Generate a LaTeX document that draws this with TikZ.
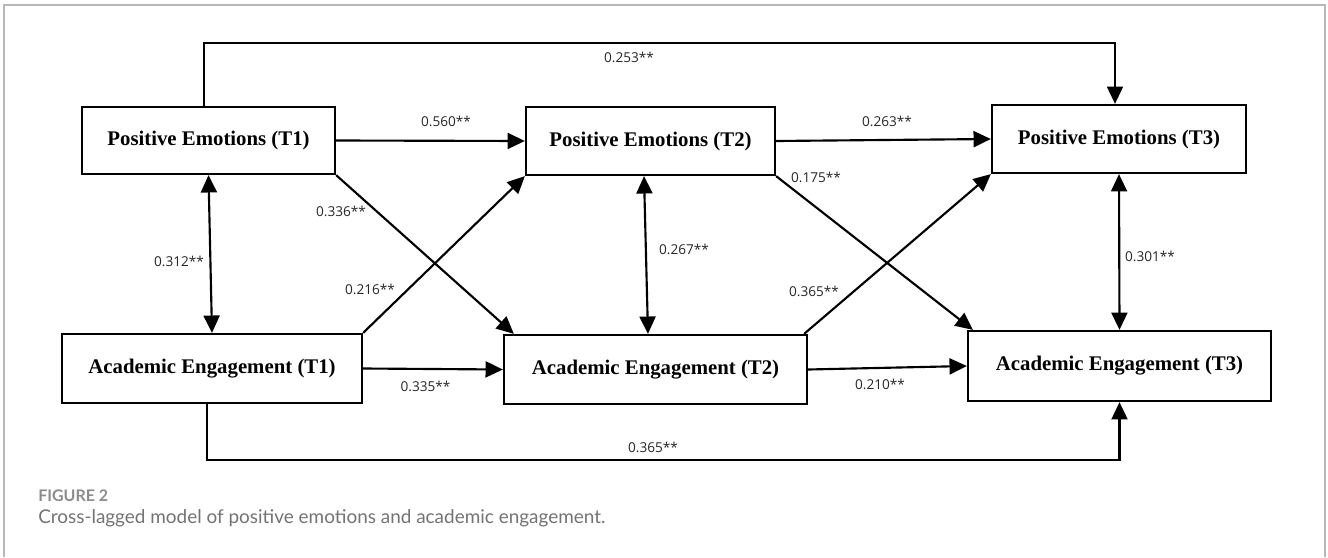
\documentclass[tikz,border=0pt]{standalone}
\usepackage{fontspec}
\setmainfont{Liberation Serif}
\newfontfamily\labfont{Open Sans}
\newfontfamily\capfont{Lato}
\usetikzlibrary{arrows.meta,calc}
\begin{document}
\begin{tikzpicture}[x=0.75pt,y=-0.75pt,
  vbox/.style={draw=black,line width=1.7pt,fill=white,inner sep=0pt,font=\fontsize{15.6}{18}\selectfont\bfseries},
  arr/.style={line width=1.6pt,-{Triangle[length=13pt,width=12pt]}},
  darr/.style={line width=1.6pt,{Triangle[length=13pt,width=12pt]}-{Triangle[length=13pt,width=12pt]}},
  lab/.style={font=\labfont\fontsize{10.2}{12}\selectfont,text=black!85,inner sep=0pt},
  frame/.style={draw=black!28,line width=1.3pt}]
\useasboundingbox (0,0) rectangle (1328,557);
\draw[frame] (4,557) -- (4,5) -- (1325,5) -- (1325,557);

% boxes
\node[vbox,minimum width={253*0.75pt},minimum height={67*0.75pt}] (PE1) at (208.5,140.5) {Positive Emotions (T1)};
\node[vbox,minimum width={249*0.75pt},minimum height={68*0.75pt}] (PE2) at (650.5,141) {Positive Emotions (T2)};
\node[vbox,minimum width={254*0.75pt},minimum height={68*0.75pt}] (PE3) at (1119,139) {Positive Emotions (T3)};
\node[vbox,minimum width={300*0.75pt},minimum height={69*0.75pt}] (AE1) at (212,368.5) {Academic Engagement (T1)};
\node[vbox,minimum width={303*0.75pt},minimum height={69*0.75pt}] (AE2) at (655.5,369.5) {Academic Engagement (T2)};
\node[vbox,minimum width={303*0.75pt},minimum height={70*0.75pt}] (AE3) at (1119.5,366) {Academic Engagement (T3)};

\coordinate (top) at (650,43);
\coordinate (bot) at (650,460);

% autoregressive paths
\draw[arr] (PE1.east) -- (PE2.west);
\draw[arr] (PE2.east) -- (PE3.west);
\draw[arr] (AE1.east) -- (AE2.west);
\draw[arr] (AE2.east) -- (AE3.west);
\draw[arr] ($(PE1.north)+(-4.5,0)$) |- (top) -| ($(PE3.north)+(-4,0)$);
\draw[arr] ($(AE1.south)+(-5,0)$) |- (bot) -| (AE3.south);

% correlations
\draw[darr] (PE1.south) -- (AE1.north);
\draw[darr] ($(PE2.south)+(-6.5,0)$) -- ($(AE2.north)+(-7.5,0)$);
\draw[darr] (PE3.south) -- (AE3.north);

% cross-lagged
\draw[arr] (PE1.south east) -- ($(AE2.north west)+(11,0)$);
\draw[arr] (AE1.north east) -- (PE2.south west);
\draw[arr] (PE2.south east) -- ($(AE3.north west)+(6,0)$);
\draw[arr] ($(AE2.north east)+(-4,0)$) -- (PE3.south west);

% labels
\node[lab] (l1) at (629,57) {0.253**};
\node[lab] (l2) at (446,121) {0.560**};
\node[lab] (l3) at (887,121) {0.263**};
\node[lab] (l4) at (341,211) {0.336**};
\node[lab] (l5) at (816,177) {0.175**};
\node[lab] (l6) at (179,261) {0.312**};
\node[lab] (l7) at (370,289) {0.216**};
\node[lab] (l8) at (684,249) {0.267**};
\node[lab] (l9) at (814,291) {0.365**};
\node[lab] (l10) at (1150,256) {0.301**};
\node[lab] (l11) at (425.5,386) {0.335**};
\node[lab] (l12) at (880,384) {0.210**};
\node[lab] (l13) at (653,447) {0.365**};

% caption
\node[anchor=west,inner sep=0pt,text=black!45,font=\capfont\bfseries\fontsize{12}{14}\selectfont] (fig) at (38,496) {FIGURE 2};
\node[anchor=west,inner sep=0pt,text=black!55,font=\capfont\fontsize{14.2}{17}\selectfont] (cap) at (38,518) {Cross-lagged model of positive emotions and academic engagement.};
\end{tikzpicture}
\end{document}
